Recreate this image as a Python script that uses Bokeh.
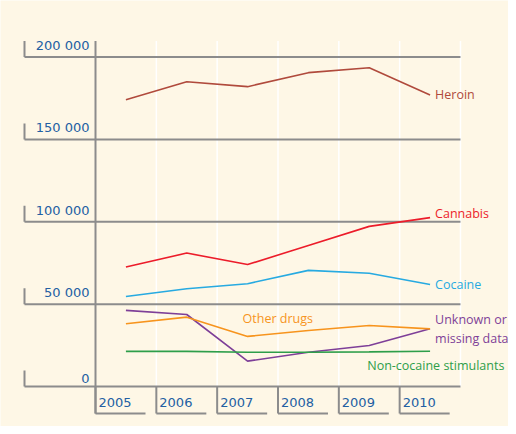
from bokeh.plotting import figure
from bokeh.embed import file_html
from bokeh.resources import INLINE
from bokeh.core.properties import value
from bokeh.models import Range1d

# ---- data ----
years = [2005, 2006, 2007, 2008, 2009, 2010]
heroin = [174000, 185000, 182000, 190500, 193500, 177000]
cannabis = [72500, 81000, 74000, 85600, 97200, 102500]
cocaine = [54600, 59300, 62400, 70500, 68700, 61900]
other_drugs = [38100, 42100, 30400, 34000, 37000, 35000]
unknown = [46200, 43700, 15400, 20800, 24900, 35000]
non_cocaine = [21300, 21300, 20800, 20800, 21000, 21400]

y_ticks = [0, 50000, 100000, 150000, 200000]
y_tick_labels = ["0", "50 000", "100 000", "150 000", "200 000"]
x_tick_labels = ["2005", "2006", "2007", "2008", "2009", "2010"]

# ---- style ----
BG = "#FEF7E6"
GRID = "#8C8C8C"
TICK_TXT = "#2360A3"
FONT = value("DejaVu Sans")
LFONT = value("Open Sans")
LSIZE = "12.5px"
PX_PER_YEAR = 60.83
PX_PER_UNIT = 1 / 607.0

W, H = 508, 426
x0 = years[0] - 0.5
x_start = x0 - 95 / PX_PER_YEAR
x_end = x_start + W / PX_PER_YEAR
y_top = 386 / PX_PER_UNIT
y_bottom = y_top - H / PX_PER_UNIT

p = figure(width=W, height=H, output_backend="svg", toolbar_location=None,
           x_range=Range1d(x_start, x_end), y_range=Range1d(y_bottom, y_top),
           min_border=0, background_fill_color=BG, border_fill_color=BG,
           outline_line_color=None)
p.xaxis.visible = False
p.yaxis.visible = False
p.xgrid.visible = False
p.ygrid.visible = False

x_last = years[-1] + 0.5
grid_left = x0 - 71 / PX_PER_YEAR
top_val = y_ticks[-1] + 16 / PX_PER_UNIT
box_bottom = y_ticks[0] - 27 / PX_PER_UNIT

# white column separators
bounds = [y + 0.5 for y in years]
p.segment(x0=bounds, y0=[y_ticks[0]] * len(bounds), x1=bounds, y1=[top_val] * len(bounds),
          line_color="white", line_width=1.5)

# horizontal gridlines with left ticks
p.segment(x0=[grid_left] * len(y_ticks), y0=y_ticks, x1=[x_last] * len(y_ticks), y1=y_ticks,
          line_color=GRID, line_width=2)
p.segment(x0=[grid_left] * len(y_ticks), y0=y_ticks, x1=[grid_left] * len(y_ticks),
          y1=[t + 16 / PX_PER_UNIT for t in y_ticks], line_color=GRID, line_width=2)
# main vertical axis line
p.segment(x0=[x0], y0=[box_bottom], x1=[x0], y1=[top_val], line_color=GRID, line_width=2)

# year label boxes
lefts = [y - 0.5 for y in years]
p.segment(x0=lefts, y0=[y_ticks[0]] * 6, x1=lefts, y1=[box_bottom] * 6, line_color=GRID, line_width=2)
p.segment(x0=lefts, y0=[box_bottom] * 6, x1=[l + 50 / PX_PER_YEAR for l in lefts], y1=[box_bottom] * 6,
          line_color=GRID, line_width=2)

# tick labels
p.text(x=[x0] * len(y_ticks), y=y_ticks, text=y_tick_labels, x_offset=-6, y_offset=-4,
       text_align="right", text_baseline="bottom", text_font=FONT, text_font_size="13px",
       text_color=TICK_TXT)
p.text(x=lefts, y=[y_ticks[0]] * 6, text=x_tick_labels, x_offset=3, y_offset=16,
       text_align="left", text_baseline="middle", text_font=FONT, text_font_size="13px",
       text_color=TICK_TXT)

series = [
    (heroin, "#B04A3C", "Heroin", 0),
    (cannabis, "#EC1C2A", "Cannabis", -4),
    (cocaine, "#27AAE1", "Cocaine", 0),
    (unknown, "#7E3F98", "Unknown or\nmissing data", 0),
]
for vals, col, lab, dy in series:
    p.line(years, vals, line_color=col, line_width=1.6)
    p.text(x=[years[-1]], y=[vals[-1]], text=[lab], x_offset=5, y_offset=dy,
           text_align="left", text_baseline="middle", text_font=LFONT, text_font_size=LSIZE,
           text_color=col, text_line_height=1.1)

p.line(years, other_drugs, line_color="#F7941D", line_width=1.6)
p.text(x=[years[2]], y=[other_drugs[2]], text=["Other drugs"], x_offset=-5, y_offset=-18,
       text_align="left", text_baseline="middle", text_font=LFONT, text_font_size=LSIZE,
       text_color="#F7941D")
p.line(years, non_cocaine, line_color="#2E9E4A", line_width=1.6)
p.text(x=[years[4]], y=[non_cocaine[4]], text=["Non-cocaine stimulants"], x_offset=-2, y_offset=14,
       text_align="left", text_baseline="middle", text_font=LFONT, text_font_size=LSIZE,
       text_color="#2E9E4A")

open("out.html", "w").write(file_html(p, INLINE))
